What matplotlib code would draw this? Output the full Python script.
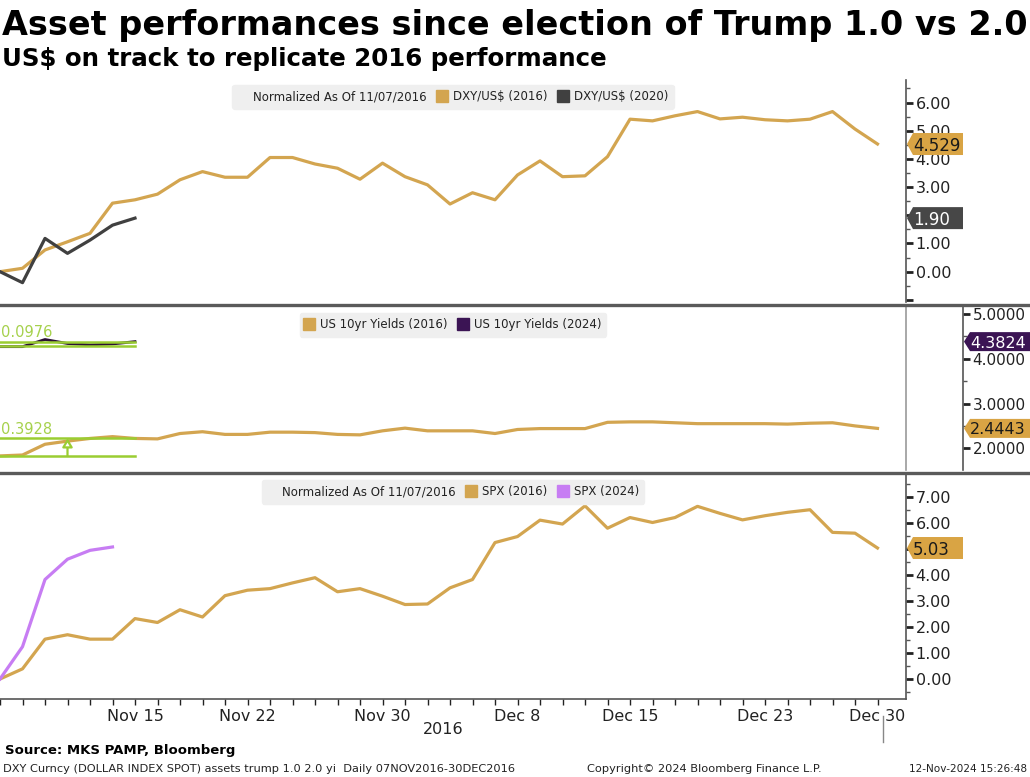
import matplotlib
matplotlib.use("Agg")
import matplotlib.pyplot as plt
from matplotlib.lines import Line2D
from matplotlib.patches import Polygon
from matplotlib.ticker import FixedLocator, MultipleLocator, FuncFormatter
import pandas as pd

# ---------------- data ----------------
trading_days = pd.bdate_range("2016-11-07", "2016-12-30")
x_tick_dates = ["2016-11-15", "2016-11-22", "2016-11-30", "2016-12-08",
                "2016-12-15", "2016-12-23", "2016-12-30"]
x_tick_labels = ["Nov 15", "Nov 22", "Nov 30", "Dec 8", "Dec 15", "Dec 23", "Dec 30"]

dxy_2016 = [0.00, 0.12, 0.77, 1.06, 1.36, 2.43, 2.55, 2.75, 3.26, 3.55,
            3.35, 3.35, 4.05, 4.05, 3.82, 3.67, 3.28, 3.85, 3.37, 3.08,
            2.40, 2.80, 2.55, 3.43, 3.93, 3.37, 3.40, 4.08, 5.41, 5.35,
            5.53, 5.68, 5.42, 5.48, 5.39, 5.35, 5.41, 5.68, 5.06, 4.529]
dxy_2020 = [0.00, -0.39, 1.18, 0.65, 1.12, 1.65, 1.90]

ust_2016 = [1.83, 1.85, 2.09, 2.16, 2.22, 2.26, 2.22, 2.21, 2.33, 2.37,
            2.31, 2.31, 2.36, 2.36, 2.35, 2.31, 2.30, 2.39, 2.45, 2.39,
            2.39, 2.39, 2.33, 2.42, 2.44, 2.44, 2.44, 2.58, 2.59, 2.59,
            2.57, 2.55, 2.55, 2.55, 2.55, 2.54, 2.56, 2.57, 2.50, 2.4443]
ust_2024 = [4.27, 4.27, 4.43, 4.34, 4.31, 4.33, 4.3824]

spx_2016 = [0.00, 0.39, 1.53, 1.70, 1.53, 1.53, 2.32, 2.17, 2.66, 2.38,
            3.20, 3.41, 3.47, 3.69, 3.89, 3.35, 3.47, 3.18, 2.86, 2.88,
            3.50, 3.82, 5.24, 5.47, 6.10, 5.95, 6.65, 5.79, 6.20, 6.01,
            6.20, 6.63, 6.36, 6.11, 6.27, 6.40, 6.50, 5.63, 5.60, 5.03]
spx_2024 = [0.00, 1.24, 3.82, 4.60, 4.94, 5.07]

# measurement annotations (Bloomberg drawing tool)
meas_2024_levels = [4.2848, 4.3824]
meas_2024_text = "0.0976"
meas_2016_levels = [1.8300, 2.2228]
meas_2016_text = "0.3928"
meas_span = [0, 6]
meas_arrow_x = 3

# ---------------- styling ----------------
W, H = 1030, 777
GOLD = "#D3A550"
GOLD_TAG = "#D9A444"
DARK = "#404040"
PURPLE = "#3B1454"
VIOLET = "#C77DF3"
GREEN = "#9ACD32"
SPINE = "#555555"

fig = plt.figure(figsize=(W / 100, H / 100), dpi=100)
fig.patch.set_facecolor("white")


def fy(py):
    return 1 - py / H


def make_ax(top, bottom, labelsize=11.5):
    ax = fig.add_axes([0, fy(bottom), 906 / W, (bottom - top) / H])
    ax.set_facecolor("white")
    for s in ["left", "top", "bottom"]:
        ax.spines[s].set_visible(False)
    ax.spines["right"].set_color(SPINE)
    ax.spines["right"].set_linewidth(1.2)
    ax.yaxis.tick_right()
    ax.tick_params(axis="y", which="major", direction="out", length=5, width=2,
                   color="#222222", labelsize=labelsize, pad=2, labelcolor="#222222")
    ax.tick_params(axis="y", which="minor", direction="out", length=3, width=1,
                   color="#555555")
    ax.set_xlim(0, 906 / 22.5)
    ax.set_xticks([])
    return ax


x_all = list(range(len(trading_days)))

# ---- top panel ----
ax1 = make_ax(80, 302)
ax1.plot(x_all, dxy_2016, color=GOLD, lw=2.3)
ax1.plot(x_all[:len(dxy_2020)], dxy_2020, color=DARK, lw=2.3)
ax1.set_ylim(-1.076, 6.80)
ax1.yaxis.set_major_locator(FixedLocator(range(-1, 7)))
ax1.yaxis.set_minor_locator(MultipleLocator(0.5))
# labels fully hidden behind a value tag are left blank
ax1.yaxis.set_major_formatter(FuncFormatter(
    lambda v, p: "" if (v < 0 or round(v) == 2) else f"{v:.2f}"))

# ---- middle panel ----
ax2 = make_ax(306, 470, labelsize=11)
ax2.spines["right"].set_position(("outward", 41))
ax2.plot([1, 1], [0, 1], transform=ax2.transAxes, color="#999999", lw=1.2, clip_on=False)
ax2.plot(x_all, ust_2016, color=GOLD, lw=2.3)
ax2.plot(x_all[:len(ust_2024)], ust_2024, color="#2A0F35", lw=2.0)
ax2.set_ylim(1.515, 5.178)
ax2.yaxis.set_major_locator(FixedLocator([2, 3, 4, 5]))
ax2.yaxis.set_minor_locator(MultipleLocator(0.5))
ax2.yaxis.set_major_formatter(FuncFormatter(lambda v, p: f"{v:.4f}"))
for lv in meas_2024_levels + meas_2016_levels:
    ax2.plot(meas_span, [lv, lv], color=GREEN, lw=1.8, zorder=4)
ax2.text(0.05, meas_2024_levels[1] + 0.03, meas_2024_text, color="#A6D14C",
         fontsize=10.5, va="bottom", ha="left")
ax2.text(0.05, meas_2016_levels[1] + 0.03, meas_2016_text, color="#A6D14C",
         fontsize=10.5, va="bottom", ha="left")
ax2.annotate("", xy=(meas_arrow_x, meas_2016_levels[1]),
             xytext=(meas_arrow_x, meas_2016_levels[0]),
             arrowprops=dict(arrowstyle="-|>,head_width=0.3,head_length=0.5",
                             ec=GREEN, fc="white", lw=1.6, shrinkA=0, shrinkB=0),
             zorder=5)

# ---- bottom panel ----
ax3 = make_ax(474, 699)
ax3.spines["bottom"].set_visible(True)
ax3.spines["bottom"].set_color(SPINE)
ax3.spines["bottom"].set_linewidth(1.2)
ax3.plot(x_all, spx_2016, color=GOLD, lw=2.3)
ax3.plot(x_all[:len(spx_2024)], spx_2024, color=VIOLET, lw=2.3)
ax3.set_ylim(-0.768, 7.872)
ax3.yaxis.set_major_locator(FixedLocator(range(0, 8)))
ax3.yaxis.set_minor_locator(MultipleLocator(0.5))
ax3.yaxis.set_major_formatter(FuncFormatter(
    lambda v, p: "" if round(v) == 5 else f"{v:.2f}"))
day_index = {d.strftime("%Y-%m-%d"): i for i, d in enumerate(trading_days)}
ax3.set_xticks([day_index[d] for d in x_tick_dates])
ax3.set_xticklabels(x_tick_labels)
ax3.xaxis.set_minor_locator(FixedLocator(x_all))
ax3.tick_params(axis="x", which="both", direction="out", length=4, width=1,
                color="#222222", labelsize=11.5, pad=3, labelcolor="#222222")

# ---- legends ----
def add_legend(ax, entries, top_gap_px, ax_h_px):
    handles, labels = [], []
    for lab, col in entries:
        if col is None:
            handles.append(Line2D([], [], linestyle="none", alpha=0))
        else:
            handles.append(Line2D([], [], linestyle="none", marker="s",
                                  markersize=9, color=col))
        labels.append(lab)
    leg = ax.legend(handles, labels, loc="upper center",
                    bbox_to_anchor=(0.5, 1 - top_gap_px / ax_h_px),
                    ncol=len(entries), frameon=True, facecolor="#EFEFEF",
                    edgecolor="#EFEFEF", framealpha=1, fontsize=8.5,
                    handlelength=0.7, handleheight=0.8, handletextpad=0.55,
                    columnspacing=1.0, borderpad=0.45, borderaxespad=0,
                    fancybox=True)
    for t in leg.get_texts():
        t.set_color("#222222")
    return leg


add_legend(ax1, [("Normalized As Of 11/07/2016", None), ("DXY/US$ (2016)", GOLD),
                 ("DXY/US$ (2020)", DARK)], 5, 222)
add_legend(ax2, [("US 10yr Yields (2016)", GOLD), ("US 10yr Yields (2024)", PURPLE)],
           7, 164)
add_legend(ax3, [("Normalized As Of 11/07/2016", None), ("SPX (2016)", GOLD),
                 ("SPX (2024)", VIOLET)], 6, 225)

# ---- value tags on the right ----
def tag(ax, value, text, fc, tc, x0, w, h, fs=12):
    y = ax.transData.transform((0, value))[1]
    pts = [(x0, y), (x0 + 6, y + h / 2), (x0 + w, y + h / 2),
           (x0 + w, y - h / 2), (x0 + 6, y - h / 2)]
    pts = [(px / W, py / H) for px, py in pts]
    fig.add_artist(Polygon(pts, closed=True, transform=fig.transFigure,
                           facecolor=fc, edgecolor="none", zorder=5))
    fig.text((x0 + 6) / W, y / H, text, color=tc, fontsize=fs, ha="left",
             va="center_baseline", zorder=6)


tag(ax1, dxy_2016[-1], f"{dxy_2016[-1]:.3f}", GOLD_TAG, "#1a1a1a", 907, 56, 22)
tag(ax1, dxy_2020[-1], f"{dxy_2020[-1]:.2f}", "#474747", "white", 907, 56, 22)
tag(ax2, ust_2024[-1], f"{ust_2024[-1]:.4f}", PURPLE, "white", 964, 66, 19, fs=11.5)
tag(ax2, ust_2016[-1], f"{ust_2016[-1]:.4f}", GOLD_TAG, "#1a1a1a", 964, 66, 19, fs=11.5)
tag(ax3, spx_2016[-1], f"{spx_2016[-1]:.2f}", GOLD_TAG, "#1a1a1a", 907, 56, 22)

# ---- separators ----
for py in (304.5, 472.5):
    fig.add_artist(Line2D([0, 1], [fy(py), fy(py)], transform=fig.transFigure,
                          color="#5A5A5A", lw=2.4))
fig.add_artist(Line2D([883 / W, 883 / W], [fy(716), fy(742)], transform=fig.transFigure,
                      color="#888888", lw=1))
fig.text(443 / W, fy(730), "2016", fontsize=11.5, ha="center", va="center",
         color="#222222")

# ---- titles and footer ----
renderer = fig.canvas.get_renderer()


def fit(t, target):
    w = t.get_window_extent(renderer).width
    t.set_fontsize(t.get_fontsize() * target / w)


t1 = fig.text(2 / W, fy(35), "Asset performances since election of Trump 1.0 vs 2.0",
              fontsize=22, fontweight="bold", ha="left", va="baseline", color="black")
fit(t1, 1020)
t2 = fig.text(2 / W, fy(66), "US$ on track to replicate 2016 performance",
              fontsize=15, fontweight="bold", ha="left", va="baseline", color="black")
fit(t2, 610)
t3 = fig.text(5 / W, fy(754), "Source: MKS PAMP, Bloomberg", fontsize=9,
              fontweight="bold", ha="left", va="baseline", color="black")
fit(t3, 228)
t4 = fig.text(3 / W, fy(772),
              "DXY Curncy (DOLLAR INDEX SPOT) assets trump 1.0 2.0 yi  Daily 07NOV2016-30DEC2016",
              fontsize=8, ha="left", va="baseline", color="#222222")
fit(t4, 512)
t5 = fig.text(587 / W, fy(772), "Copyright\u00a9 2024 Bloomberg Finance L.P.", fontsize=8,
              ha="left", va="baseline", color="#222222")
fit(t5, 235)
t6 = fig.text(1027 / W, fy(772), "12-Nov-2024 15:26:48", fontsize=8, ha="right",
              va="baseline", color="#222222")
fit(t6, 118)

fig.savefig("out.png", dpi=100, facecolor="white")
